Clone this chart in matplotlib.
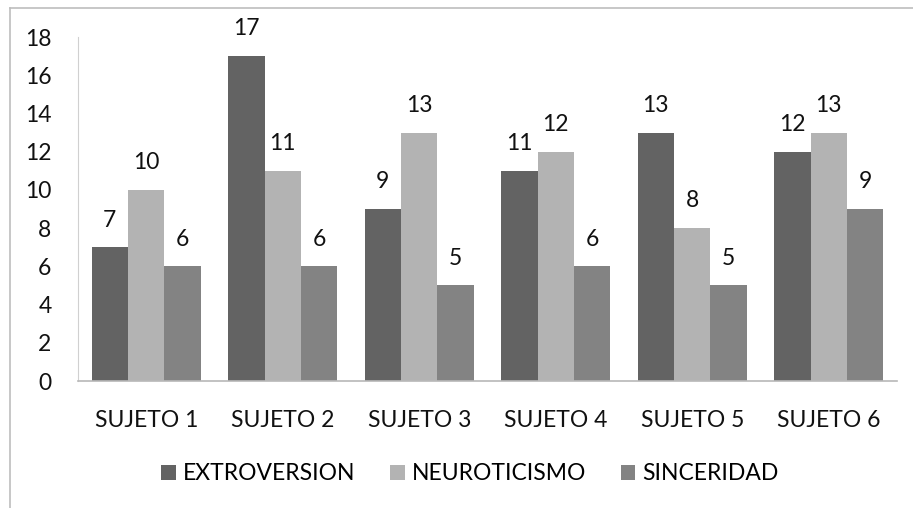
import numpy as np
import matplotlib.pyplot as plt
from matplotlib.lines import Line2D

# data
sujetos = ["SUJETO 1", "SUJETO 2", "SUJETO 3", "SUJETO 4", "SUJETO 5", "SUJETO 6"]
extroversion = [7, 17, 9, 11, 13, 12]
neuroticismo = [10, 11, 13, 12, 8, 13]
sinceridad = [6, 6, 5, 6, 5, 9]
series_names = ["EXTROVERSION", "NEUROTICISMO", "SINCERIDAD"]
yticks = [0, 2, 4, 6, 8, 10, 12, 14, 16, 18]

colors = ["#636363", "#b3b3b3", "#838383"]

plt.rcParams["font.family"] = ["Lato", "DejaVu Sans"]
FS = 16.5

W, H = 913, 508
fig = plt.figure(figsize=(W / 100, H / 100), dpi=100)
ax = fig.add_axes([78 / W, 1 - 381 / H, (897 - 78) / W, (381 - 37) / H])

x = np.arange(len(sujetos))
width = 0.8 / 3
values = [extroversion, neuroticismo, sinceridad]

for i, (name, vals) in enumerate(zip(series_names, values)):
    bars = ax.bar(x + (i - 1) * width, vals, width, color=colors[i],
                  label=name, zorder=2)
    for b, v in zip(bars, vals):
        ax.annotate(str(v), (b.get_x() + b.get_width() / 2, v),
                    xytext=(0, 12), textcoords="offset points",
                    ha="center", va="bottom", fontsize=FS, color="#111111")

ax.set_xlim(-0.5, len(sujetos) - 0.5)
ax.set_ylim(0, 18)
ax.set_yticks(yticks)
ax.set_xticks(x)
ax.set_xticklabels(sujetos)
ax.tick_params(axis="both", length=0, labelsize=FS, colors="#111111")
ax.tick_params(axis="y", pad=19)
ax.tick_params(axis="x", pad=21)

for s in ["top", "right"]:
    ax.spines[s].set_visible(False)
ax.spines["left"].set_color("#d0d0d0")
ax.spines["bottom"].set_color("#b8b8b8")
ax.spines["bottom"].set_linewidth(1.2)

fig.legend(loc="center", bbox_to_anchor=(470 / W, 1 - 474 / H), ncol=3,
           frameon=False, fontsize=FS, handlelength=0.65, handleheight=0.65,
           handletextpad=0.3, columnspacing=1.5)

# outer chart frame (only top and left edges visible)
fig.add_artist(Line2D([9.5 / W, 9.5 / W], [0, 1 - 7.5 / H],
                      transform=fig.transFigure, color="#bdbdbd", lw=1.2))
fig.add_artist(Line2D([9.5 / W, 1], [1 - 7.5 / H, 1 - 7.5 / H],
                      transform=fig.transFigure, color="#bdbdbd", lw=1.2))

fig.savefig("out.png", dpi=100)
